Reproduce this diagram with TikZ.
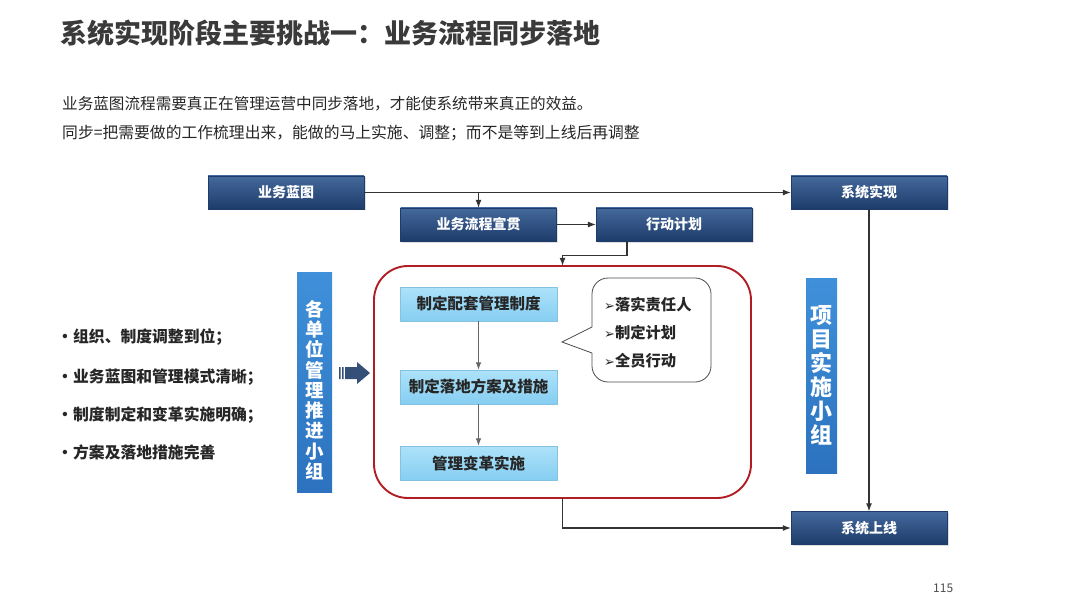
\documentclass[tikz,border=0pt]{standalone}
\usepackage{fontspec}
\setmainfont{Noto Sans CJK SC}
\newfontfamily\symfont{DejaVu Sans}
\usetikzlibrary{arrows.meta,shadows}
\definecolor{navytop}{HTML}{44699C}
\definecolor{navybot}{HTML}{1D3C6A}
\definecolor{skytop}{HTML}{ADE2F9}
\definecolor{skybot}{HTML}{86CEF2}
\definecolor{teamtop}{HTML}{3F90DA}
\definecolor{teambot}{HTML}{2C72BE}
\definecolor{framered}{HTML}{B01E23}
\definecolor{titlegray}{HTML}{3A3A3A}
\newcommand{\pt}[1]{\fontsize{#1}{#1}\selectfont}

\begin{document}
\begin{tikzpicture}[x=1pt,y=-1pt,>=Latex,
  darkbox/.style={top color=navytop,bottom color=navybot,draw=navybot,
    minimum width=156pt,minimum height=33pt,inner sep=0pt,text=white,
    font=\pt{14}\bfseries,
    drop shadow={opacity=0.25,shadow xshift=1.5pt,shadow yshift=-1.5pt}},
  lightbox/.style={top color=skytop,bottom color=skybot,draw=skybot!85!gray,
    minimum width=157pt,minimum height=34pt,inner sep=0pt,text=black!85,
    font=\pt{15.5}\bfseries},
  teambox/.style={top color=teamtop,bottom color=teambot,inner sep=0pt},
  teamtext/.style={text=white,align=center,inner sep=0pt},
  link/.style={->,line width=1.1pt,draw=black!80},
  sublink/.style={->,line width=1pt,draw=gray!80!black},
  plain/.style={anchor=west,inner sep=0pt,text=black!85}]
  \useasboundingbox (0,0) rectangle (1080,607);

  % heading
  \node[plain,text=titlegray,font=\pt{27}\bfseries] (title) at (60,33)
    {系统实现阶段主要挑战一：业务流程同步落地};
  \node[plain,font=\pt{15.6}] (line1) at (62,104)
    {业务蓝图流程需要真正在管理运营中同步落地，才能使系统带来真正的效益。};
  \node[plain,font=\pt{15.8}] (line2) at (62,133)
    {同步=把需要做的工作梳理出来，能做的马上实施、调整；而不是等到上线后再调整};

  % top row
  \node[darkbox] (blueprint) at (286,192.5) {业务蓝图};
  \node[darkbox] (promo) at (478.5,224.5) {业务流程宣贯};
  \node[darkbox] (plan) at (674,224.5) {行动计划};
  \node[darkbox] (sysimpl) at (869,192.5) {系统实现};
  \node[darkbox] (golive) at (869,528) {系统上线};

  % red frame with steps
  \draw[framered,line width=1.9pt,rounded corners=34pt] (374,266) rectangle (751,498);
  \node[inner sep=0pt,minimum width=377pt,minimum height=232pt] (redbox) at (562.5,382) {};
  \node[lightbox] (rules) at (478.5,304) {制定配套管理制度};
  \node[lightbox] (measures) at (478.5,387) {制定落地方案及措施};
  \node[lightbox] (reform) at (478.5,463) {管理变革实施};

  % callout
  \draw[black!70,line width=0.8pt,rounded corners=16pt]
    (592,353) -- (592,382) -- (711,382) -- (711,278) -- (592,278) -- (592,327);
  \draw[black!70,line width=0.8pt] (592,327) -- (562,342) -- (592,353);
  \node[plain,align=left,font=\fontsize{15.3}{28}\selectfont\bfseries] (notetext) at (604,333)
    {{\symfont\pt{13}➢}落实责任人\\{\symfont\pt{13}➢}制定计划\\{\symfont\pt{13}➢}全员行动};

  % teams
  \node[teambox,minimum width=35pt,minimum height=220pt] (unitteam) at (314.5,382) {};
  \node[teamtext,font=\fontsize{18.5}{20.3}\selectfont\bfseries] (unittext) at (314.5,390)
    {各\\单\\位\\管\\理\\推\\进\\小\\组};
  \node[teambox,minimum width=31pt,minimum height=195pt] (projteam) at (821.5,375.5) {};
  \node[teamtext,font=\fontsize{22}{24}\selectfont\bfseries] (projtext) at (821.5,375.5)
    {项\\目\\实\\施\\小\\组};
  % push arrow
  \fill[navybot!90!white] (339,367) rectangle (340.6,379) (342,367) rectangle (343.6,379)
    (345,367) -- (357,367) -- (357,362) -- (370,373) -- (357,384) -- (357,379) -- (345,379) -- cycle;

  % bullets
  \node[plain,font=\pt{15.8}\bfseries] (b1) at (57,337) {\makebox[16pt][l]{•}组织、制度调整到位；};
  \node[plain,font=\pt{15.8}\bfseries] (b2) at (57,377) {\makebox[16pt][l]{•}业务蓝图和管理模式清晰；};
  \node[plain,font=\pt{15.8}\bfseries] (b3) at (57,415) {\makebox[16pt][l]{•}制度制定和变革实施明确；};
  \node[plain,font=\pt{15.8}\bfseries] (b4) at (57,452) {\makebox[16pt][l]{•}方案及落地措施完善};

  % connectors
  \draw[link] (blueprint.east) -- (sysimpl.west);
  \draw[link] (promo.north |- blueprint.east) -- (promo.north);
  \draw[link] (promo.east) -- (plan.west);
  \draw[link] ([xshift=-47pt]plan.south) -- ++(0,14) -| (redbox.north);
  \draw[link] (sysimpl.south) -- (golive.north);
  \draw[link] (redbox.south) |- (golive.west);
  \draw[sublink] (rules.south) -- (measures.north);
  \draw[sublink] (measures.south) -- (reform.north);

  \node[plain,font=\pt{12},text=black!70] (page) at (933,588) {115};
\end{tikzpicture}
\end{document}
